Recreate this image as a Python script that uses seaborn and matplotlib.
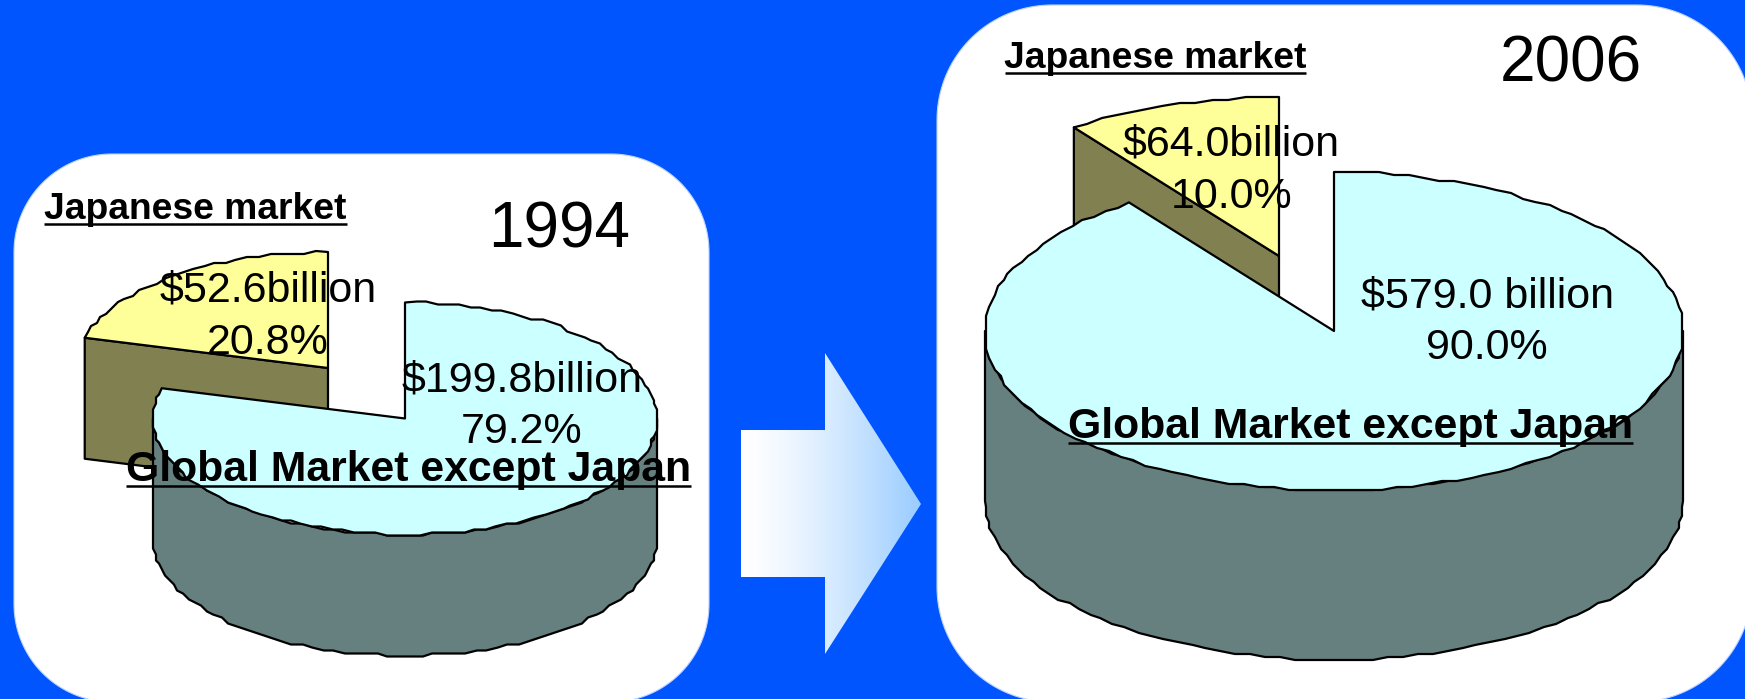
import numpy as np
import matplotlib
matplotlib.use("Agg")
import matplotlib.pyplot as plt
from matplotlib.patches import Polygon
import seaborn as sns

# ---- data ----
years = ["1994", "2006"]
japan_billion = [52.6, 64.0]
other_billion = [199.8, 579.0]
japan_share = [20.8, 10.0]
other_share = [79.2, 90.0]
japan_value_labels = ["$52.6billion", "$64.0billion"]
other_value_labels = ["$199.8billion", "$579.0 billion"]
japan_title = "Japanese market"
other_title = "Global Market except Japan"

# ---- styles ----
sns.set_style("white")
plt.rcParams["font.family"] = ["Liberation Sans", "DejaVu Sans"]
BG, TOP_OTHER, TOP_JP, SIDE_JP, SIDE_OTHER = sns.color_palette(
    ["#0055FF", "#CCFFFF", "#FFFF99", "#808050", "#668080"])

W, H = 1745, 699
fig = plt.figure(figsize=(W / 100, H / 100), dpi=100, facecolor=BG)
ax = fig.add_axes([0, 0, 1, 1])
ax.set_facecolor(BG)
ax.set_xlim(0, W)
ax.set_ylim(H, 0)
ax.axis("off")

GRID = 3.0
LW = 1.6


def arc(cx, cy, rx, ry, a0, a1):
    """Points on the ellipse, angles in degrees; lightly snapped to a grid like the source."""
    n = max(int(abs(a1 - a0) / 2.5), 2)
    t = np.radians(np.linspace(a0, a1, n))
    x = rx * np.cos(t)
    y = ry * np.sin(t)
    x = np.round(x / GRID) * GRID
    y = np.round(y / GRID) * GRID
    x[0], y[0] = rx * np.cos(t[0]), ry * np.sin(t[0])
    x[-1], y[-1] = rx * np.cos(t[-1]), ry * np.sin(t[-1])
    return np.column_stack([cx + x, cy - y])


def poly(pts, fc, z):
    ax.add_patch(Polygon(pts, closed=True, fc=fc, ec="black", lw=LW, joinstyle="round", zorder=z))


def pie3d(share_other, other_c, jp_c, rx, ry, depth):
    cut = 90 + 360 * (100 - share_other) / 100.0  # angle where the main slice ends
    # Japanese slice: drawn first, it sits behind
    jx, jy = jp_c
    top = arc(jx, jy, rx, ry, 90, cut)
    left = top[-1]
    poly([left, (jx, jy), (jx, jy + depth), (left[0], left[1] + depth)], SIDE_JP, 2)
    poly(np.vstack([top, [(jx, jy)]]), TOP_JP, 3)
    # main slice
    ox, oy = other_c
    front_top = arc(ox, oy, rx, ry, 180, 360)
    front_bot = front_top[::-1] + np.array([0, depth])
    poly(np.vstack([front_top, front_bot]), SIDE_OTHER, 4)
    main = arc(ox, oy, rx, ry, 90, cut - 360)
    poly(np.vstack([main, [(ox, oy)]]), TOP_OTHER, 5)


def label(x, y, s, size, weight="normal"):
    ax.text(x, y, s, ha="center", va="baseline", fontsize=size, fontweight=weight,
            color="black", zorder=10)


def underlined(x0, x1, y, uy, s, size):
    label((x0 + x1) / 2, y, s, size, "bold")
    ax.plot([x0, x1], [uy, uy], color="black", lw=1.8, solid_capstyle="butt", zorder=10)


def rounded_panel(x0, y0, x1, y1, r):
    pts = []
    for cx, cy, a in [(x1 - r, y0 + r, 0), (x0 + r, y0 + r, 90),
                      (x0 + r, y1 - r, 180), (x1 - r, y1 - r, 270)]:
        t = np.radians(np.linspace(a, a + 90, 40))
        pts.append(np.column_stack([cx + r * np.cos(t), cy - r * np.sin(t)]))
    ax.add_patch(Polygon(np.vstack(pts), closed=True, fc="white", ec="#BBD4FF", lw=0.8, zorder=1))


# panels
rounded_panel(14, 154, 709, 702, 98)
rounded_panel(937, 5, 1752, 702, 115)

# pies
pie3d(other_share[0], (405, 418.5), (328, 368), 252, 116, 121)
pie3d(other_share[1], (1334, 331), (1279, 256), 349, 159, 170)

# arrow with gradient
arrow = Polygon([(741, 430), (825, 430), (825, 353), (921, 504),
                 (825, 654), (825, 577), (741, 577)], closed=True,
                fc="none", ec="none", transform=ax.transData)
ax.add_patch(arrow)
frac = np.linspace(0, 1, 256) ** 1.35
grad = np.ones((1, 256, 3))
grad[0, :, 0] = 1 - frac * (1 - 0x99 / 255)
grad[0, :, 1] = 1 - frac * (1 - 0xCC / 255)
im = ax.imshow(grad, extent=(741, 921, 654, 353), aspect="auto", zorder=2, interpolation="bilinear")
im.set_clip_path(arrow)
ax.set_xlim(0, W)
ax.set_ylim(H, 0)

# text 1994
TS = 31
underlined(44.5, 347, 219, 223.5, japan_title, 26.8)
label(559, 247, years[0], 46)
label(268, 302, japan_value_labels[0], TS)
label(268, 354, f"{japan_share[0]:.1f}%", TS)
label(522, 391, other_value_labels[0], TS)
label(522, 443, f"{other_share[0]:.1f}%", TS)
underlined(126, 691, 481, 486, other_title, 30.8)

# text 2006
underlined(1005, 1306, 68, 72.5, japan_title, 26.8)
label(1571, 81, years[1], 46)
label(1231, 155, japan_value_labels[1], TS)
label(1232, 208, f"{japan_share[1]:.1f}%", TS)
label(1488, 308, other_value_labels[1], TS)
label(1487, 359, f"{other_share[1]:.1f}%", TS)
underlined(1068, 1633, 438, 443, other_title, 30.8)

fig.savefig("out.png", dpi=100, facecolor=BG)
